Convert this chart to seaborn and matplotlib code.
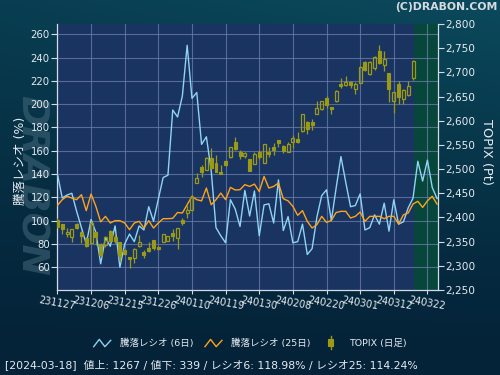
import numpy as np
import pandas as pd
import matplotlib
matplotlib.use("Agg")
import matplotlib.pyplot as plt
import seaborn as sns
from matplotlib.lines import Line2D
from matplotlib.patches import Rectangle
from matplotlib.legend_handler import HandlerBase
from matplotlib.ticker import FuncFormatter

# ---------------- data ----------------
ratio6 = [140, 119.5, 122, 123.5, 108, 94, 80, 101, 90, 63,
          85.5, 78, 95.5, 60, 80, 88.5, 82, 95.5, 92, 112,
          99.5, 118.5, 137, 139, 195, 189, 207, 250.5, 205, 210,
          165.5, 172, 143, 94, 87, 81, 118, 110, 95, 126,
          104, 125.5, 87, 113.5, 114.5, 98, 135, 91.5, 103.5, 81,
          82, 97, 71, 76, 103, 121.5, 126.5, 100, 128, 155,
          133, 112, 113, 123, 92, 94, 105, 97, 115, 91,
          118, 97, 99, 111, 119.3, 151, 134, 152, 128.5, 118.98]
ratio25 = [113, 118, 121, 119.4, 118, 122.3, 108.6, 122.9, 112.3, 99,
           103.7, 98, 100, 100, 98, 92.3, 98, 99.4, 93.7, 100,
           93.7, 98, 101.7, 101.7, 102, 107, 106.6, 113.7, 120.9, 118,
           117, 128, 113.7, 118, 123.7, 118, 128.6, 126.3, 126.6, 130.9,
           129.4, 131.4, 125, 138, 128, 129.4, 132.3, 118.9, 117, 112.3,
           104.6, 108.6, 99.4, 93.7, 96.6, 103.7, 98.5, 100.2, 107, 108,
           108, 102.3, 103.7, 107.4, 99.4, 103.7, 103.7, 103.7, 101.7, 103.7,
           103.7, 97.1, 105, 106.6, 114.3, 116.6, 111.4, 117, 120.9, 114.24]

topix_open = [2394.6, 2385.6, 2364.9, 2360.1, 2385.6, 2370.4, 2358.0, 2346.3, 2369.1, 2344.2,
              2342.8, 2371.8, 2360.1, 2348.3, 2332.5, 2317.9, 2315.2, 2341.4, 2327.6, 2335.9,
              2353.2, 2339.4, 2349.7, 2351.8, 2367.0, 2356.6, 2394.6, 2408.4, 2415.3, 2471.9,
              2505.1, 2498.2, 2523.7, 2513.4, 2493.4, 2517.5, 2524.4, 2556.9, 2534.8, 2526.5,
              2520.3, 2511.3, 2536.2, 2512.7, 2535.5, 2545.2, 2560.3, 2547.9, 2534.8, 2556.9,
              2562.4, 2579.0, 2598.3, 2598.3, 2613.5, 2623.9, 2646.7, 2628.0, 2639.8, 2675.7,
              2672.9, 2679.8, 2666.0, 2677.8, 2721.3, 2697.1, 2708.8, 2744.7, 2714.4, 2698.5,
              2639.8, 2675.7, 2645.3, 2652.2, 2688.1]
topix_high = [2399.4, 2385.6, 2377.3, 2375.3, 2387.7, 2371.8, 2360.1, 2392.5, 2369.1, 2346.3,
              2362.1, 2373.9, 2367.0, 2349.7, 2332.5, 2317.9, 2335.9, 2363.5, 2331.8, 2348.3,
              2353.2, 2340.5, 2364.9, 2362.1, 2376.0, 2378.7, 2399.4, 2425.7, 2446.0, 2491.3,
              2508.6, 2525.0, 2543.1, 2530.0, 2508.6, 2518.9, 2545.2, 2567.3, 2539.6, 2534.8,
              2520.3, 2536.2, 2539.6, 2551.4, 2546.5, 2553.4, 2560.3, 2550.0, 2556.9, 2570.7,
              2576.2, 2613.5, 2599.7, 2603.9, 2639.8, 2641.1, 2650.1, 2628.0, 2663.0, 2688.1,
              2691.6, 2682.6, 2679.8, 2712.3, 2722.6, 2722.6, 2733.0, 2755.8, 2743.4, 2698.5,
              2658.4, 2682.6, 2666.0, 2682.6, 2726.1]
topix_low = [2377.3, 2365.6, 2360.1, 2349.7, 2376.0, 2346.3, 2339.4, 2346.3, 2342.8, 2318.6,
             2339.4, 2349.7, 2346.3, 2308.3, 2322.1, 2294.5, 2304.8, 2339.4, 2316.6, 2329.0,
             2332.5, 2332.5, 2349.7, 2351.8, 2351.1, 2334.5, 2384.2, 2399.4, 2415.0, 2470.6,
             2484.4, 2498.0, 2500.0, 2494.7, 2489.0, 2507.2, 2522.4, 2539.6, 2521.0, 2522.4,
             2496.1, 2511.3, 2521.0, 2512.7, 2525.8, 2529.3, 2546.5, 2532.7, 2534.8, 2543.1,
             2553.4, 2577.6, 2572.1, 2581.1, 2613.5, 2622.5, 2626.0, 2613.5, 2639.0, 2667.4,
             2670.8, 2667.4, 2655.0, 2677.8, 2701.9, 2695.0, 2705.4, 2717.1, 2703.3, 2638.4,
             2617.0, 2634.2, 2634.2, 2651.5, 2684.7]
topix_close = [2380.8, 2375.3, 2369.1, 2375.3, 2378.7, 2362.1, 2341.4, 2389.1, 2360.1, 2322.1,
               2360.1, 2351.1, 2351.1, 2320.7, 2323.5, 2314.5, 2334.5, 2349.7, 2322.1, 2331.1,
               2335.9, 2334.5, 2364.9, 2362.1, 2362.1, 2378.7, 2387.7, 2415.3, 2443.0, 2482.3,
               2494.7, 2523.7, 2501.7, 2494.7, 2489.9, 2508.6, 2545.2, 2541.7, 2527.9, 2532.7,
               2496.1, 2530.7, 2524.4, 2551.4, 2530.7, 2539.6, 2553.4, 2537.6, 2551.4, 2563.8,
               2555.5, 2613.5, 2582.5, 2591.4, 2626.0, 2639.8, 2631.5, 2624.6, 2661.9, 2672.2,
               2679.8, 2674.3, 2675.7, 2710.2, 2705.4, 2720.6, 2730.9, 2719.2, 2727.5, 2666.0,
               2658.4, 2648.1, 2662.6, 2670.8, 2724.0]

tick_labels = ["231127", "231206", "231215", "231226", "240110", "240119",
               "240130", "240208", "240220", "240301", "240312", "240322"]
ratio_ticks = [60, 80, 100, 120, 140, 160, 180, 200, 220, 240, 260]
topix_ticks = [2250, 2300, 2350, 2400, 2450, 2500, 2550, 2600, 2650, 2700, 2750, 2800]

legend_labels = ["騰落レシオ (6日)", "騰落レシオ (25日)", "TOPIX (日足)"]
footer = "[2024-03-18]  値上: 1267 / 値下: 339 / レシオ6: 118.98% / レシオ25: 114.24%"

# ---------------- style ----------------
plt.rcParams['font.family'] = ['DejaVu Sans', 'Noto Sans CJK JP']
plt.rcParams['axes.unicode_minus'] = False

C_BLUE = '#8fd3f5'
C_ORANGE = '#ffa31a'
C_CANDLE = '#9a9a16'
C_TEXT = '#e6eaf0'
C_SPINE = '#d4dae6'
C_PLOT = '#1a3461'
C_FUTURE = '#07463a'
C_GRID = '#6b7fa8'

fig = plt.figure(figsize=(5, 3.75), dpi=100)

# figure background gradient
bg = fig.add_axes([0, 0, 1, 1], zorder=-10)
top = np.array([0x0b, 0x4a, 0x5c]) / 255
bot = np.array([0x04, 0x22, 0x38]) / 255
yy = np.linspace(0, 1, 200)[:, None]
xx = np.linspace(0, 1, 200)[None, :]
f = (1 - yy) ** 1.3 * (0.7 + 0.3 * xx)
img = bot[None, None, :] + (top - bot)[None, None, :] * f[:, :, None]
bg.imshow(img, aspect='auto', extent=[0, 1, 0, 1], origin='upper')
bg.set_axis_off()

fig.text(0.062, 0.505, 'DRABON', rotation=-90, fontsize=27, fontweight='heavy',
         style='italic', color='#44697a', alpha=0.55, ha='center', va='center', zorder=-5)

ax = fig.add_axes([0.1134, 0.2267, 0.7626, 0.7093])
ax.set_facecolor(C_PLOT)

n_ratio = len(ratio6)
df = pd.DataFrame({'idx': np.arange(n_ratio), 'r6': ratio6, 'r25': ratio25})

xmin, xmax = -0.15, 79.2
last_idx = len(topix_close) - 1
ax.axvspan(last_idx + 0.15, xmax, color=C_FUTURE, zorder=0.1, lw=0)

sns.lineplot(data=df, x='idx', y='r6', ax=ax, color=C_BLUE, linewidth=1.0, zorder=3)
sns.lineplot(data=df, x='idx', y='r25', ax=ax, color=C_ORANGE, linewidth=1.0, zorder=3)

ax.set_xlim(xmin, xmax)
ax.set_ylim(40.5, 268.8)
ax.set_yticks(ratio_ticks)
ax.set_xticks(np.arange(len(tick_labels)) * 7)
ax.set_xticklabels(tick_labels, rotation=-10, ha='center', fontsize=7, color=C_TEXT)
ax.grid(True, color=C_GRID, linewidth=0.8, alpha=0.75, zorder=0.5)
ax.set_axisbelow(True)
ax.tick_params(axis='y', labelsize=7.3, colors=C_SPINE, labelcolor=C_TEXT, length=4, width=0.8, pad=1)
ax.tick_params(axis='x', colors=C_SPINE, labelcolor=C_TEXT, length=3, width=0.8, pad=0.5)
ax.set_xlabel('')
ax.set_ylabel('騰落レシオ (%)', fontsize=9, color=C_TEXT)
ax.yaxis.set_label_coords(-0.094, 0.485)
ax.yaxis.label.set_va('center')
for s in ['top', 'right']:
    ax.spines[s].set_visible(False)
for s in ['left', 'bottom']:
    ax.spines[s].set_color(C_SPINE)
    ax.spines[s].set_linewidth(0.9)

# TOPIX candles on twin axis
ax2 = ax.twinx()
ax2.set_ylim(2250, 2800)
o = np.array(topix_open); h = np.array(topix_high)
l = np.array(topix_low); c = np.array(topix_close)
xs = np.arange(len(o))
body_lo = np.minimum(o, c); body_hi = np.maximum(o, c)
up = c >= o
w = 0.62
ax2.vlines(xs, body_hi, h, color=C_CANDLE, linewidth=0.9, zorder=4)
ax2.vlines(xs, l, body_lo, color=C_CANDLE, linewidth=0.9, zorder=4)
heights = np.maximum(body_hi - body_lo, 0.6)
ax2.bar(xs[~up], heights[~up], bottom=body_lo[~up], width=w, color=C_CANDLE,
        edgecolor=C_CANDLE, linewidth=0.8, zorder=5)
ax2.bar(xs[up], heights[up], bottom=body_lo[up], width=w, facecolor='none',
        edgecolor=C_CANDLE, linewidth=0.9, zorder=5)
ax2.set_yticks(topix_ticks)
ax2.yaxis.set_major_formatter(FuncFormatter(lambda v, p: f"{int(v):,}"))
ax2.tick_params(axis='y', labelsize=7.6, colors=C_SPINE, labelcolor=C_TEXT, length=4, width=0.8, pad=1)
ax2.set_ylabel('TOPIX (Pt)', fontsize=9.3, color=C_TEXT, rotation=-90)
ax2.yaxis.set_label_coords(1.128, 0.517)
ax2.yaxis.label.set_va('center')
for s in ['top', 'left', 'bottom']:
    ax2.spines[s].set_visible(False)
ax2.spines['right'].set_color(C_SPINE)
ax2.spines['right'].set_linewidth(0.9)
ax2.set_xlim(xmin, xmax)


# ---------------- legend ----------------
class ZigzagHandler(HandlerBase):
    def create_artists(self, legend, orig_handle, xdescent, ydescent, width, height, fontsize, trans):
        px = np.array([0.0, 0.33, 0.66, 1.0]) * width - xdescent
        py = np.array([-0.1, 1.0, -0.1, 0.85]) * height - ydescent
        ln = Line2D(px, py, color=orig_handle.get_color(), linewidth=1.0)
        ln.set_transform(trans)
        return [ln]


class CandleHandler(HandlerBase):
    def create_artists(self, legend, orig_handle, xdescent, ydescent, width, height, fontsize, trans):
        cx = width * 0.5 - xdescent
        wick = Line2D([cx, cx], [-0.45 * height - ydescent, 1.45 * height - ydescent],
                      color=C_CANDLE, linewidth=1.0)
        wick.set_transform(trans)
        bw = width * 0.3
        rect = Rectangle((cx - bw / 2, -0.05 * height - ydescent), bw, height * 1.1,
                         facecolor=C_CANDLE, edgecolor=C_CANDLE, linewidth=0.8)
        rect.set_transform(trans)
        return [wick, rect]


h1 = Line2D([], [], color=C_BLUE)
h2 = Line2D([], [], color=C_ORANGE)
h3 = Rectangle((0, 0), 1, 1, color=C_CANDLE)
leg = fig.legend([h1, h2, h3], legend_labels, ncol=3, loc='center',
                 bbox_to_anchor=(0.5, 0.0845), frameon=False, fontsize=6.8,
                 handlelength=1.8, handletextpad=1.0, columnspacing=1.2,
                 handler_map={h1: ZigzagHandler(), h2: ZigzagHandler(), h3: CandleHandler()})
for t in leg.get_texts():
    t.set_color(C_TEXT)

fig.text(0.01, 0.027, footer, fontsize=7.8, color=C_TEXT, ha='left', va='center')
fig.text(0.994, 0.98, '(C)DRABON.COM', fontsize=7.8, fontweight='bold',
         color='#d5dbe2', ha='right', va='center')

fig.savefig('out.png', dpi=100)
